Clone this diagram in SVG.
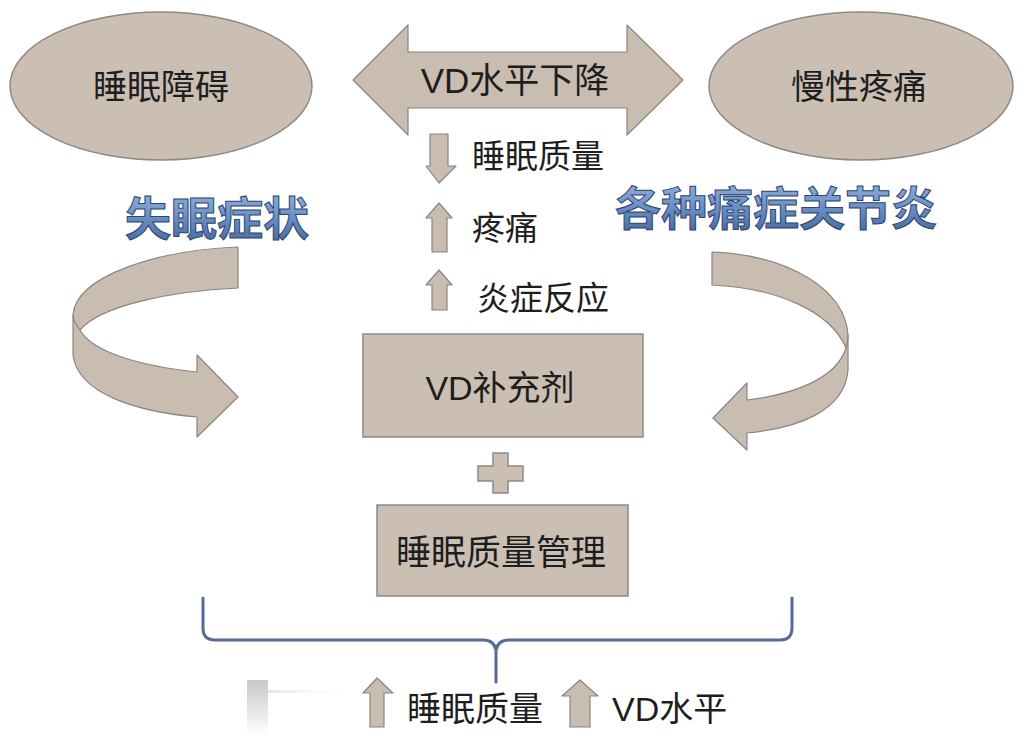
<svg xmlns="http://www.w3.org/2000/svg" width="1024" height="745" viewBox="0 0 1024 745">
<defs>
<linearGradient id="blueG" x1="0" y1="0" x2="0" y2="1">
<stop offset="0" stop-color="#9dbbe3"/>
<stop offset="0.5" stop-color="#6f92c6"/>
<stop offset="1" stop-color="#3f6299"/>
</linearGradient>
<linearGradient id="fadeG" x1="0" y1="0" x2="0" y2="1">
<stop offset="0" stop-color="#c8c8c8"/>
<stop offset="1" stop-color="#ffffff"/>
</linearGradient>
<linearGradient id="lineG" x1="0" y1="0" x2="1" y2="0">
<stop offset="0" stop-color="#e6e6e6"/>
<stop offset="1" stop-color="#ffffff" stop-opacity="0"/>
</linearGradient>
<style>
.shape{fill:#cbbfb4;stroke:#8d8985;stroke-width:1.5}
.arrow{fill:#c9bcb1;stroke:#8a8580;stroke-width:1.2;stroke-linejoin:round}
.t{font-family:"Liberation Sans","Noto Sans CJK SC",sans-serif;fill:#1e1e1e;text-anchor:middle;dominant-baseline:central}
.tl{font-family:"Liberation Sans","Noto Sans CJK SC",sans-serif;fill:#1e1e1e;dominant-baseline:central}
.title{font-family:"Noto Sans CJK SC",sans-serif;font-weight:bold;fill:url(#blueG);stroke:#2b4470;stroke-width:1;text-anchor:middle;dominant-baseline:central}
.brace{fill:none;stroke:#5a6a98;stroke-width:3;stroke-linejoin:round;stroke-linecap:round}
</style>
</defs>
<rect width="1024" height="745" fill="#ffffff"/>

<g id="connectors">
<path id="double-arrow" class="arrow" d="M353 80 L408 25 L408 52 L627 52 L627 25 L683 80 L627 135 L627 108 L408 108 L408 135 Z"/>
<path id="arrow-down-sleep" class="arrow" d="M430 134 L448 134 L448 166 L456 166 L439 183 L426 166 L430 166 Z"/>
<path id="arrow-up-pain" class="arrow" d="M432 252 L447 252 L447 218 L452 218 L439 203 L426 218 L432 218 Z"/>
<path id="arrow-up-inflam" class="arrow" d="M432 310 L447 310 L447 285 L452 285 L439 270 L426 285 L432 285 Z"/>
<path id="curve-left" class="arrow" d="M238 247 C160 250 76 275 73 315 L73 355 C78 395 140 412 197 417 L197 437 L238 397 L197 355 L197 372 C140 366 92 352 80 330 C100 306 170 291 238 288 Z"/>
<path class="arrow" d="M80 330 C76 325 73 320 73 315" style="fill:none"/>
<path id="curve-right" class="arrow" d="M712 252 C790 255 845 290 848 335 L848 370 C845 410 800 428 747 433 L747 450 L713 418 L747 383 L747 400 C790 395 836 380 846 348 C830 310 775 288 712 285 Z"/>
<path class="arrow" d="M846 348 C847 344 848 340 848 335" style="fill:none"/>
<path id="brace" class="brace" d="M203 598 L203 628 Q203 640 215 640 L483 640 Q494 640 496 650 L496 682 M496 682 L496 650 Q498 640 509 640 L780 640 Q792 640 792 628 L792 598"/>
<rect x="268" y="690" width="95" height="3" fill="url(#lineG)"/>
<rect x="247" y="680" width="21" height="55" fill="url(#fadeG)"/>
<path id="arrow-up-sleep2" class="arrow" d="M370 727 L384 727 L384 693 L393 693 L377 678 L363 693 L370 693 Z"/>
<path id="arrow-up-vd" class="arrow" d="M570 727 L590 727 L590 696 L598 696 L580 680 L562 696 L570 696 Z"/>
</g>

<g id="node-sleep-disorder">
<ellipse class="shape" cx="161" cy="86" rx="151" ry="74"/>
<text class="t" x="161" y="87" font-size="34">睡眠障碍</text>
</g>
<g id="node-chronic-pain">
<ellipse class="shape" cx="861" cy="86" rx="152" ry="74"/>
<text class="t" x="859" y="87" font-size="34">慢性疼痛</text>
</g>
<g id="node-vd-decline">
<text class="t" x="515" y="80" font-size="35">VD水平下降</text>
</g>
<g id="node-sleep-quality-down">
<text class="tl" x="472" y="156" font-size="33">睡眠质量</text>
</g>
<g id="node-pain-up">
<text class="tl" x="472" y="228" font-size="33">疼痛</text>
</g>
<g id="node-inflammation-up">
<text class="tl" x="477" y="298" font-size="33">炎症反应</text>
</g>
<g id="node-insomnia">
<text class="title" x="217" y="215" font-size="46">失眠症状</text>
</g>
<g id="node-pain-types">
<text class="title" x="776" y="205" font-size="46">各种痛症关节炎</text>
</g>
<g id="node-vd-supplement">
<rect class="shape" x="363" y="334" width="280" height="103"/>
<text class="t" x="500" y="388" font-size="34">VD补充剂</text>
</g>
<g id="node-plus">
<path class="shape" d="M493 453 L508 453 L508 466 L523 466 L523 481 L508 481 L508 493 L493 493 L493 481 L478 481 L478 466 L493 466 Z"/>
</g>
<g id="node-sleep-management">
<rect class="shape" x="377" y="505" width="251" height="91"/>
<text class="t" x="501" y="552" font-size="35">睡眠质量管理</text>
</g>
<g id="node-sleep-quality-up">
<text class="tl" x="407" y="709" font-size="34">睡眠质量</text>
</g>
<g id="node-vd-up">
<text class="tl" x="612" y="709" font-size="34">VD水平</text>
</g>
</svg>
